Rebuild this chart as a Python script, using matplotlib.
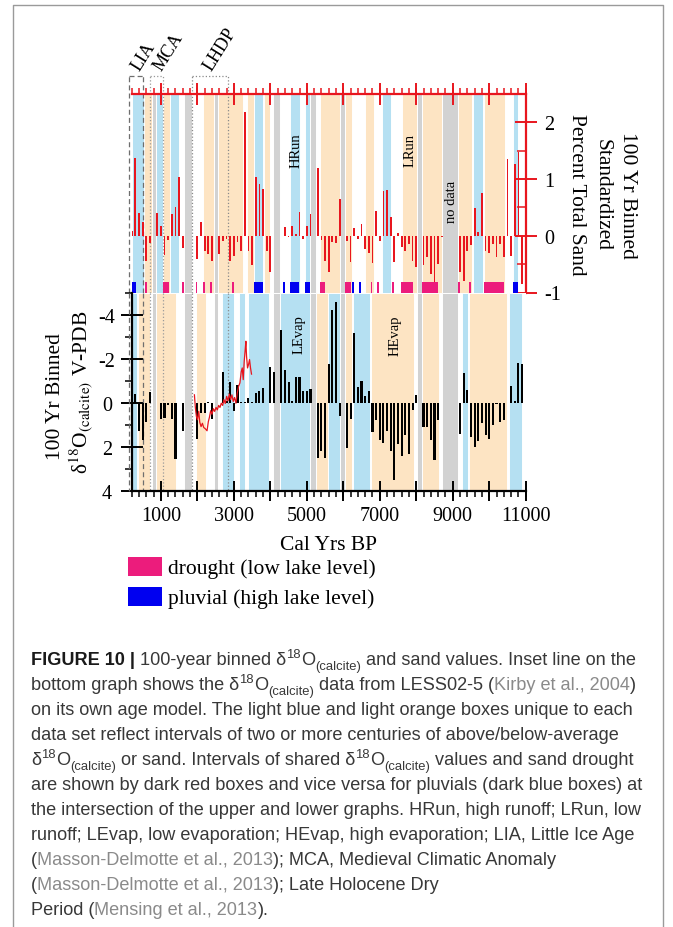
import numpy as np
import matplotlib
matplotlib.use("Agg")
import matplotlib.pyplot as plt
from matplotlib.ticker import MultipleLocator, FixedLocator
from matplotlib.patches import Rectangle
from matplotlib.lines import Line2D

plt.rcParams['font.family'] = 'Liberation Serif'
plt.rcParams['axes.unicode_minus'] = False

# ---------------- data ----------------
# 100-yr bins 200 ... 10900 cal yr BP
bin_years = list(range(200, 11000, 100))

# standardized percent total sand (upper panel), None = no data
sand = [
    0.09, 1.37, 0.40, 0.24, -0.44, -0.13, None, 0.40, 0.18, -0.34,
    -0.07, 0.38, 0.51, 1.04, -0.21, None, None, None, -0.41, 0.25,
    -0.26, -0.32, -0.44, None, -0.32, -0.09, -0.05, -0.44, -0.35, -0.11,
    -0.26, 2.18, -0.26, -0.52, 1.04, 0.91, 0.82, -0.27, -0.64, None,
    None, None, 0.16, -0.02, 0.18, 0.04, 0.42, -0.05, 0.18, 0.39,
    None, 1.19, -0.08, -0.44, -0.64, -0.11, -0.13, 0.64, None, -0.10,
    -0.46, 0.14, -0.05, 0.21, -0.23, -0.30, -0.48, 0.44, -0.09, 0.79,
    0.80, 0.34, -0.46, 0.05, -0.20, -0.26, -0.15, -0.44, -0.55, None,
    -0.52, -0.38, -0.67, -0.82, -0.50, -0.03, None, None, None, None,
    -0.64, -0.79, -0.26, -0.17, 0.49, 0.06, 0.76, -0.27, -0.30, -0.14,
    -0.38, -0.14, -0.38, 1.36, -0.35, 1.27, 1.48, -0.85,
]

# d18O(calcite) (lower panel), None = no data
d18o = [
    -0.97, -0.42, 1.30, 1.70, 0.85, -0.48, None, 0.03, 0.75, 0.70,
    0.10, 0.75, 2.55, None, 1.27, None, None, None, 1.64, 0.45,
    0.45, -0.05, 0.75, None, None, -1.40, -0.10, -0.94, 0.37, -0.80,
    -0.05, -0.05, -0.21, -0.05, -0.45, -0.55, -0.65, None, -1.60, -1.38,
    None, -3.28, -1.47, -0.93, -0.10, -1.15, -1.18, -0.52, -0.52, -0.63,
    None, 2.52, 2.20, 2.52, -1.78, -4.20, -4.55, 0.62, None, 2.07,
    0.72, -3.17, -0.72, -0.97, -0.29, -0.55, 1.32, 0.76, 1.70, 1.84,
    1.27, 2.20, 3.50, 1.86, 2.40, 1.45, 2.30, 0.34, -0.35, None,
    1.10, 1.10, 1.70, 2.58, 0.80, 0.03, None, None, None, None,
    1.40, -1.35, -0.57, 1.55, 2.00, 1.75, 0.90, 1.45, 1.65, 1.00,
    0.05, 0.85, 0.80, None, -0.75, -0.10, -1.80, -1.78,
]

# LESS02-5 d18O inset line (Kirby et al., 2004)
less_yr = [1919, 1946, 1974, 2001, 2037, 2065, 2101, 2138, 2174, 2219, 2265,
           2301, 2329, 2365, 2401, 2438, 2474, 2511, 2547, 2583, 2620, 2656,
           2693, 2729, 2765, 2802, 2838, 2875, 2911, 2947, 2984, 3020, 3057,
           3093, 3129, 3166, 3202, 3230, 3257, 3284, 3311, 3330, 3348, 3375,
           3402, 3430, 3457, 3484]
less_val = [-0.36, 0.24, 0.62, 0.77, 0.39, 0.88, 1.08, 0.93, 1.12, 1.18, 1.27,
            0.85, 0.67, 0.36, 0.52, 0.27, 0.39, 0.21, 0.32, 0.12, 0.21, 0.02,
            0.12, -0.14, 0.03, -0.29, -0.09, -0.39, -0.14, -0.36, -0.06, -0.24, 0.02,
            -0.44, -0.74, -0.90, -1.40, -1.58, -1.05, -1.88, -2.41, -2.79, -2.11, -1.58,
            -1.73, -1.96, -1.58, -1.30]

# shaded intervals (cal yr BP)
gray_bands = [(750, 870), (1630, 1850), (2450, 2560), (4080, 4260),
              (5100, 5250), (5920, 6050), (8020, 8160), (8710, 9150)]
sand_blue = [(200, 550), (870, 1050), (1260, 1510), (3550, 3800), (4550, 4800),
             (4950, 5100), (7050, 7300), (9550, 9840), (10650, 10800)]
sand_orange = [(550, 750), (1050, 1250), (2160, 2450), (2560, 3250), (3350, 3550),
               (3840, 4000), (5350, 5920), (6060, 6250), (6600, 6850), (7600, 8020),
               (8160, 8710), (9150, 9540), (9860, 10420)]
iso_blue = [(200, 350), (2670, 3000), (3150, 3300), (3380, 3960), (4260, 5100),
            (5590, 5900), (6270, 6740), (9250, 9430), (10550, 10900)]
iso_orange = [(370, 690), (870, 1410), (1970, 2250), (5250, 5590), (6040, 6250),
              (6750, 7930), (8160, 8630), (9440, 10500)]

drought = [(560, 610), (1070, 1210), (1580, 1630), (1950, 2000), (2160, 2210),
           (2340, 2390), (2950, 3000), (5350, 5490), (6060, 6200), (6750, 6800),
           (6930, 6980), (7340, 7390), (7570, 7900), (8150, 8590), (9150, 9200),
           (9440, 9490), (9860, 10400)]
pluvial = [(200, 320), (3550, 3790), (4340, 4390), (4550, 4790), (4950, 5100),
           (6250, 6300), (6430, 6480), (10660, 10790)]

lia = (130, 500)
mca = (700, 1050)
lhdp = (1850, 2850)

major_years = list(range(1000, 11001, 1000))
xlabels = ['1000', '', '3000', '', '5000', '', '7000', '', '9000', '', '11000']

# ---------------- styles ----------------
RED = '#e8161e'
BLUE_L = '#b5e0f2'
ORANGE_L = '#fde4c3'
GRAY_L = '#d2d2d2'
PINK = '#ec1c7c'
BLUE_D = '#0000f0'

W, H = 673, 928
fig = plt.figure(figsize=(W / 100, H / 100), dpi=100)


def fx(px):
    return px / W


def fy(py):
    return 1 - py / H


X0, X1 = 131.7, 525.7
YTOP, YMID, YBOT = 95, 293.5, 492
ax1 = fig.add_axes([fx(X0), fy(YMID), (X1 - X0) / W, (YMID - YTOP) / H])
ax2 = fig.add_axes([fx(X0), fy(YBOT), (X1 - X0) / W, (YBOT - YMID) / H])

yrs = np.array(bin_years)
sand_a = np.array([np.nan if v is None else v for v in sand])
d18o_a = np.array([np.nan if v is None else v for v in d18o])

# ---- upper panel: sand ----
for a, b in sand_blue:
    ax1.axvspan(a, b, facecolor=BLUE_L, edgecolor='white', lw=0.7, zorder=0)
for a, b in sand_orange:
    ax1.axvspan(a, b, facecolor=ORANGE_L, edgecolor='white', lw=0.7, zorder=0)
for a, b in gray_bands:
    ax1.axvspan(a, b, facecolor=GRAY_L, edgecolor='white', lw=0.7, zorder=0)

ok = ~np.isnan(sand_a)
ax1.bar(yrs[ok], sand_a[ok], width=48, color=RED, zorder=3)
ax1.broken_barh([(a, b - a) for a, b in drought], (-1, 0.18), facecolors=PINK, zorder=4)
ax1.broken_barh([(a, b - a) for a, b in pluvial], (-1, 0.18), facecolors=BLUE_D, zorder=4)

ax1.set_xlim(200, 11000)
ax1.set_ylim(-1, 2.5)
for s in ['left', 'bottom']:
    ax1.spines[s].set_visible(False)
for s in ['top', 'right']:
    ax1.spines[s].set_color(RED)
    ax1.spines[s].set_linewidth(1.6)
ax1.xaxis.set_ticks_position('top')
ax1.xaxis.set_major_locator(FixedLocator(major_years))
ax1.xaxis.set_minor_locator(MultipleLocator(200))
ax1.xaxis.remove_overlapping_locs = False
ax1.tick_params(axis='x', which='major', direction='inout', length=16.5, width=1.4,
                color=RED, labeltop=False, labelbottom=False)
ax1.tick_params(axis='x', which='minor', direction='out', length=4.3, width=1.1, color=RED)
ax1.yaxis.set_ticks_position('right')
ax1.yaxis.set_major_locator(MultipleLocator(1))
ax1.yaxis.set_minor_locator(MultipleLocator(0.5))
ax1.tick_params(axis='y', which='major', direction='inout', length=16, width=1.4,
                color=RED, labelsize=14.5, pad=5)
ax1.tick_params(axis='y', which='minor', direction='in', length=6.5, width=1.1, color=RED)

ax1.text(4700, 1.52, 'HRun', rotation=90, ha='center', va='center', fontsize=10.5)
ax1.text(7830, 1.52, 'LRun', rotation=90, ha='center', va='center', fontsize=10.5)
ax1.text(8960, 0.62, 'no data', rotation=90, ha='center', va='center', fontsize=10.5)

# ---- lower panel: d18O ----
for a, b in iso_blue:
    ax2.axvspan(a, b, facecolor=BLUE_L, edgecolor='white', lw=0.7, zorder=0)
for a, b in iso_orange:
    ax2.axvspan(a, b, facecolor=ORANGE_L, edgecolor='white', lw=0.7, zorder=0)
for a, b in gray_bands:
    ax2.axvspan(a, b, facecolor=GRAY_L, edgecolor='white', lw=0.7, zorder=0)

ok = ~np.isnan(d18o_a)
ax2.bar(yrs[ok], d18o_a[ok], width=58, color='black', zorder=3)
ax2.plot(less_yr, less_val, color=RED, lw=0.9, zorder=5)

ax2.set_xlim(200, 11000)
ax2.set_ylim(4, -5)
for s in ['top', 'right']:
    ax2.spines[s].set_visible(False)
for s in ['left', 'bottom']:
    ax2.spines[s].set_linewidth(1.6)
ax2.xaxis.set_major_locator(FixedLocator(major_years))
ax2.xaxis.set_minor_locator(MultipleLocator(200))
ax2.xaxis.remove_overlapping_locs = False
ax2.set_xticklabels(xlabels)
ax2.tick_params(axis='x', which='major', direction='inout', length=15, width=1.4,
                labelsize=14.5, pad=3)
ax2.tick_params(axis='x', which='minor', direction='out', length=4.5, width=1.1)
ax2.yaxis.set_major_locator(MultipleLocator(2))
ax2.yaxis.set_minor_locator(MultipleLocator(1))
ax2.tick_params(axis='y', which='major', direction='inout', length=16.5, width=1.4,
                labelsize=14.5, pad=9.5)
ax2.tick_params(axis='y', which='minor', direction='out', length=5, width=1.1)
for lab in ax2.get_yticklabels():
    lab.set_ha('center')

ax2.text(4780, -3.14, 'LEvap', rotation=90, ha='center', va='center', fontsize=10.5)
ax2.text(7430, -3.1, 'HEvap', rotation=90, ha='center', va='center', fontsize=10.5)

# ---- period markers (LIA, MCA, LHDP) ----
box_top = 2.5 + (YTOP - 77) / ((YMID - YTOP) / 3.5)


def marker(x, ls, color):
    ax1.plot([x, x], [-1, box_top], ls=ls, color=color, lw=0.9, clip_on=False, zorder=2)
    ax2.plot([x, x], [-5, 4], ls=ls, color=color, lw=0.9, clip_on=False, zorder=2)


for (a, b), ls, c in [(lia, (0, (4, 2.5)), '#6e6e6e'), (mca, ':', '#9a9a9a'), (lhdp, ':', '#8a8a8a')]:
    marker(a, ls, c)
    marker(b, ls, c)
    ax1.plot([a, b], [box_top, box_top], ls=ls, color=c, lw=0.9, clip_on=False)

for xp, s in [(140, 'LIA'), (162, 'MCA'), (212, 'LHDP')]:
    fig.text(fx(xp), fy(72), s, rotation=58, rotation_mode='anchor',
             ha='left', va='baseline', fontsize=13)

# ---- axis labels ----
fig.text(fx(60), fy(397), '100 Yr Binned', rotation=90, rotation_mode='anchor',
         ha='center', va='baseline', fontsize=15.5)
fig.text(fx(88), fy(392), r'δ$^{18}$O$_{\mathrm{(calcite)}}$ V-PDB', rotation=90,
         rotation_mode='anchor', ha='center', va='baseline', fontsize=15.5,
         math_fontfamily='stix')
for xp, s in [(623, '100 Yr Binned'), (598, 'Standardized'), (572.5, 'Percent Total Sand')]:
    fig.text(fx(xp), fy(195), s, rotation=-90, rotation_mode='anchor',
             ha='center', va='baseline', fontsize=15.5)
fig.text(fx(328.7), fy(550), 'Cal Yrs BP', ha='center', va='baseline', fontsize=15.5)

# ---- legend ----
for (ytop, c, s) in [(558, PINK, 'drought (low lake level)'), (588, BLUE_D, 'pluvial (high lake level)')]:
    fig.add_artist(Rectangle((fx(128), fy(ytop + 19)), 34 / W, 19 / H,
                             transform=fig.transFigure, facecolor=c, edgecolor='none'))
    fig.text(fx(168.5), fy(ytop + 16), s, ha='left', va='baseline', fontsize=15.5)

# ---- frame ----
fig.add_artist(Line2D([fx(13), fx(13), fx(663), fx(663)], [0, fy(6), fy(6), 0],
                      transform=fig.transFigure, color='#9a9a9a', lw=1.0))

# ---- caption ----
CAP_FONT = 'Liberation Sans'
TXT = '#383838'
GREY_REF = '#8a8a8a'
caption = [
    [('FIGURE 10 |', 'b'), (' 100-year binned δ', 'n'), ('18', 'sup'), ('O', 'n'), ('(calcite)', 'sub'),
     (' and sand values. Inset line on the', 'n')],
    [('bottom graph shows the δ', 'n'), ('18', 'sup'), ('O', 'n'), ('(calcite)', 'sub'),
     (' data from LESS02-5 (', 'n'), ('Kirby et al., 2004', 'g'), (')', 'n')],
    [('on its own age model. The light blue and light orange boxes unique to each', 'n')],
    [('data set reflect intervals of two or more centuries of above/below-average', 'n')],
    [('δ', 'n'), ('18', 'sup'), ('O', 'n'), ('(calcite)', 'sub'), (' or sand. Intervals of shared δ', 'n'),
     ('18', 'sup'), ('O', 'n'), ('(calcite)', 'sub'), (' values and sand drought', 'n')],
    [('are shown by dark red boxes and vice versa for pluvials (dark blue boxes) at', 'n')],
    [('the intersection of the upper and lower graphs. HRun, high runoff; LRun, low', 'n')],
    [('runoff; LEvap, low evaporation; HEvap, high evaporation; LIA, Little Ice Age', 'n')],
    [('(', 'n'), ('Masson-Delmotte et al., 2013', 'g'), ('); MCA, Medieval Climatic Anomaly', 'n')],
    [('(', 'n'), ('Masson-Delmotte et al., 2013', 'g'), ('); Late Holocene Dry', 'n')],
    [('Period (', 'n'), ('Mensing et al., 2013', 'g'), (').', 'n')],
]

renderer = fig.canvas.get_renderer()


def text_w(s, size, weight='normal'):
    t = fig.text(0, 0, '|' + s + '|', fontsize=size, family=CAP_FONT, fontweight=weight)
    w = t.get_window_extent(renderer).width
    t.set_text('||')
    w -= t.get_window_extent(renderer).width
    t.remove()
    return w


cap_size = 12 * 603 / text_w(caption[2][0][0], 12)
px = cap_size * 100 / 72

for i, line in enumerate(caption):
    x = 31.0
    base = 665 + 25 * i
    for s, kind in line:
        size = cap_size * (0.72 if kind in ('sup', 'sub') else 1.0)
        weight = 'bold' if kind == 'b' else 'normal'
        color = GREY_REF if kind == 'g' else ('#1a1a1a' if kind == 'b' else TXT)
        dy = 0.40 * px if kind == 'sup' else (-0.28 * px if kind == 'sub' else 0)
        lead = len(s) - len(s.lstrip())
        xs = x + (text_w(' ' * lead, size, weight) if lead else 0)
        fig.text(fx(xs), fy(base - dy), s.strip(), fontsize=size, family=CAP_FONT,
                 fontweight=weight, color=color, ha='left', va='baseline')
        x += text_w(s, size, weight)

fig.savefig('out.png', dpi=100)
